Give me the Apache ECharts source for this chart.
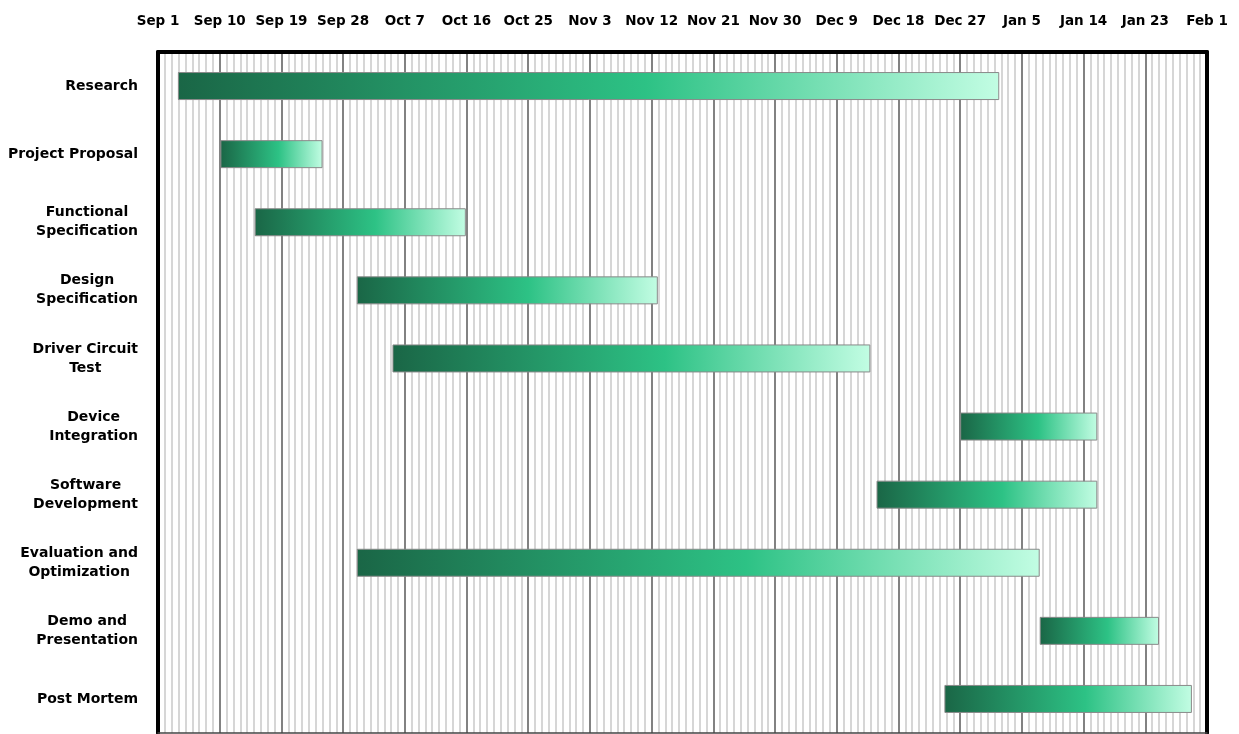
<!DOCTYPE html>
<html>
<head>
<meta charset="utf-8">
<script src="https://cdn.jsdelivr.net/npm/echarts@6/dist/echarts.min.js"></script>
<style>
  html, body { margin: 0; padding: 0; background: #fff; }
  #main { width: 1239px; height: 734px; }
</style>
</head>
<body>
<div id="main"></div>
<script>
// tasks, top to bottom
const tasks = [
    'Research',
    'Project Proposal',
    'Functional\nSpecification',
    'Design\nSpecification',
    'Driver Circuit\nTest',
    'Device\nIntegration',
    'Software\nDevelopment',
    'Evaluation and\nOptimization',
    'Demo and\nPresentation',
    'Post Mortem'
];

// days counted from Sep 1
const taskStart = [2.9, 9.1, 14.1, 29.0, 34.2, 117.0, 104.8, 29.0, 128.6, 114.7];
const taskEnd   = [122.7, 24.0, 44.9, 72.9, 103.9, 137.0, 137.0, 128.6, 146.0, 150.8];

const tickLabels = ['Sep 1', 'Sep 10', 'Sep 19', 'Sep 28', 'Oct 7', 'Oct 16', 'Oct 25', 'Nov 3',
    'Nov 12', 'Nov 21', 'Nov 30', 'Dec 9', 'Dec 18', 'Dec 27', 'Jan 5', 'Jan 14', 'Jan 23', 'Feb 1'];

const chart = echarts.init(document.getElementById('main'));

const font = 'DejaVu Sans, Arial, sans-serif';

const barColor = new echarts.graphic.LinearGradient(0, 0, 1, 0, [
    { offset: 0, color: '#1a6646' },
    { offset: 0.57, color: '#2dc285' },
    { offset: 1, color: '#c2fde3' }
]);

const option = {
    backgroundColor: '#fff',
    animation: false,
    grid: {
        left: 158,
        right: 32,
        top: 52,
        height: 681
    },
    xAxis: [
        {
            type: 'value',
            position: 'top',
            min: 0,
            max: 153,
            interval: 9,
            z: 0,
            axisLine: { show: true, onZero: false, lineStyle: { color: '#000', width: 4 } },
            axisTick: { show: false },
            axisLabel: {
                margin: 24,
                fontFamily: font,
                fontWeight: 'bold',
                fontSize: 13.5,
                color: '#000',
                formatter: (v) => tickLabels[Math.round(v / 9)]
            },
            splitLine: { show: true, lineStyle: { color: '#828282', width: 2 } },
            minorTick: { show: false, splitNumber: 9 },
            minorSplitLine: { show: true, lineStyle: { color: '#d6d6d6', width: 2 } }
        },
        {
            type: 'value',
            position: 'bottom',
            min: 0,
            max: 153,
            interval: 9,
            z: 5,
            axisLine: { show: true, onZero: false, lineStyle: { color: '#444', width: 1.5 } },
            axisTick: { show: false },
            axisLabel: { show: false },
            splitLine: { show: false }
        }
    ],
    yAxis: [
        {
            type: 'category',
            inverse: true,
            data: tasks,
            z: 5,
            axisLine: { show: true, onZero: false, lineStyle: { color: '#000', width: 4 } },
            axisTick: { show: false },
            splitLine: { show: false },
            axisLabel: {
                margin: 20,
                align: 'right',
                formatter: (v) => v.split('\n').map(s => `{c|${s}}`).join('\n'),
                rich: {
                    c: {
                        align: 'center',
                        fontFamily: font,
                        fontWeight: 'bold',
                        fontSize: 14,
                        lineHeight: 19,
                        color: '#000'
                    }
                }
            }
        },
        {
            type: 'category',
            inverse: true,
            position: 'right',
            data: tasks,
            z: 5,
            axisLine: { show: true, onZero: false, lineStyle: { color: '#000', width: 4 } },
            axisTick: { show: false },
            axisLabel: { show: false },
            splitLine: { show: false }
        }
    ],
    series: [
        {
            name: 'base',
            type: 'bar',
            stack: 'gantt',
            barWidth: 28,
            silent: true,
            itemStyle: { color: 'transparent' },
            data: taskStart
        },
        {
            name: 'task',
            type: 'bar',
            stack: 'gantt',
            barWidth: 28,
            z: 3,
            itemStyle: {
                color: barColor,
                borderColor: '#8a8a8a',
                borderWidth: 1
            },
            data: taskEnd.map((e, i) => +(e - taskStart[i]).toFixed(1))
        }
    ]
};

chart.setOption(option);
</script>
</body>
</html>
